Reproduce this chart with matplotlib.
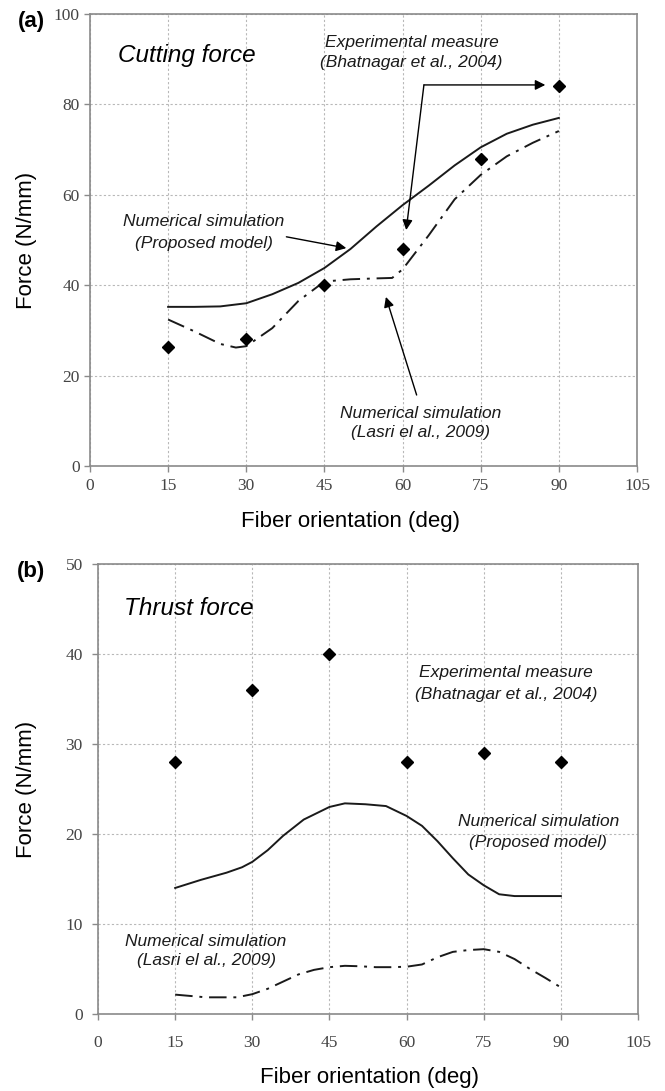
import numpy as np
import matplotlib
matplotlib.use("Agg")
import matplotlib.pyplot as plt

# ---------------- DATA ----------------
ANGLES = [15, 30, 45, 60, 75, 90]

# (a) cutting force
EXP_CUT = [26.3, 28.2, 40.0, 48.0, 68.0, 84.0]
PROP_CUT_X = [15, 20, 25, 30, 35, 40, 45, 50, 55, 60, 65, 70, 75, 80, 85, 90]
PROP_CUT_Y = [35.2, 35.2, 35.3, 36.0, 38.0, 40.5, 43.8, 48.0, 53.0, 57.7, 62.0, 66.5, 70.5, 73.5, 75.5, 77.0]
LASRI_CUT_X = [15, 20, 25, 28, 30, 35, 40, 45, 50, 55, 58, 60, 65, 70, 75, 80, 85, 90]
LASRI_CUT_Y = [32.4, 29.8, 27.0, 26.2, 26.5, 30.5, 36.5, 40.8, 41.3, 41.5, 41.6, 43.5, 51.0, 59.0, 64.4, 68.5, 71.5, 74.1]

# (b) thrust force
EXP_THR = [28.0, 36.0, 40.0, 28.0, 29.0, 28.0]
PROP_THR_X = [15, 20, 25, 28, 30, 33, 36, 40, 45, 48, 52, 56, 60, 63, 66, 69, 72, 75, 78, 81, 85, 90]
PROP_THR_Y = [14.0, 14.9, 15.7, 16.3, 16.9, 18.2, 19.8, 21.6, 23.0, 23.4, 23.3, 23.1, 22.0, 20.9, 19.2, 17.3, 15.5, 14.3, 13.3, 13.1, 13.1, 13.1]
LASRI_THR_X = [15, 18, 21, 24, 27, 30, 33, 36, 39, 42, 45, 48, 51, 54, 57, 60, 63, 66, 69, 72, 75, 78, 81, 84, 87, 90]
LASRI_THR_Y = [2.15, 2.0, 1.85, 1.85, 1.85, 2.2, 2.8, 3.6, 4.4, 4.9, 5.2, 5.35, 5.3, 5.2, 5.2, 5.25, 5.5, 6.3, 6.9, 7.1, 7.2, 6.9, 6.1, 5.0, 4.0, 2.95]

X_TICKS = np.arange(0, 106, 15)

# ---------------- STYLE ----------------
LINE_C = "#1a1a1a"
SPINE_C = "#8a8a8a"
GRID_C = "#b8b8b8"
TICK_C = "#444444"
DASHDOT = (0, (9, 3.5, 1.5, 3.5))
SANS = "Liberation Sans"
SERIF = "Liberation Serif"
NOTE_SIZE = 12.5
TITLE_SIZE = 17.5
LABEL_SIZE = 16

fig = plt.figure(figsize=(6.65, 10.91), dpi=100)
ax_a = fig.add_axes([0.1353, 0.5729, 0.8226, 0.4143])
ax_b = fig.add_axes([0.1474, 0.0706, 0.8120, 0.4125])


def style_axes(ax, ymax, ystep, xpad, ypad):
    ax.set_xlim(0, 105)
    ax.set_ylim(0, ymax)
    ax.set_xticks(X_TICKS)
    ax.set_yticks(np.arange(0, ymax + 1, ystep))
    ax.grid(True, color=GRID_C, linestyle=(0, (2, 2)), linewidth=0.8)
    ax.set_axisbelow(True)
    for s in ax.spines.values():
        s.set_color(SPINE_C)
        s.set_linewidth(1.2)
    ax.tick_params(direction="out", length=4, width=1.0, color=SPINE_C,
                   labelcolor=TICK_C, labelsize=12.5)
    ax.tick_params(axis="x", pad=xpad)
    ax.tick_params(axis="y", pad=ypad)
    for lab in ax.get_xticklabels() + ax.get_yticklabels():
        lab.set_family(SERIF)
    ax.set_xlabel("Fiber orientation (deg)", fontsize=LABEL_SIZE, family=SANS)
    ax.set_ylabel("Force (N/mm)", fontsize=LABEL_SIZE, family=SANS)


def note(ax, x, y, s, size=NOTE_SIZE):
    ax.text(x, y, s, ha="center", va="center", style="italic",
            family=SANS, fontsize=size, color="#1a1a1a")


def arrow(ax, start, tip):
    ax.annotate("", xy=tip, xytext=start,
                arrowprops=dict(arrowstyle="-|>", color="black", lw=1.0,
                                mutation_scale=15, shrinkA=0, shrinkB=0))


# ---------------- (a) Cutting force ----------------
style_axes(ax_a, 100, 20, xpad=5, ypad=3.5)
ax_a.plot(PROP_CUT_X, PROP_CUT_Y, color=LINE_C, lw=1.4)
ax_a.plot(LASRI_CUT_X, LASRI_CUT_Y, color=LINE_C, lw=1.4, linestyle=DASHDOT)
ax_a.plot(ANGLES, EXP_CUT, linestyle="none", marker="D", ms=6.5, color="black")
ax_a.xaxis.set_label_coords(0.477, -0.1)
ax_a.yaxis.set_label_coords(-0.097, 0.5)

ax_a.text(5.4, 90.9, "Cutting force", ha="left", va="center", style="italic",
          family=SANS, fontsize=TITLE_SIZE)
note(ax_a, 61.7, 93.6, "Experimental measure")
note(ax_a, 61.7, 89.2, "(Bhatnagar et al., 2004)")
arrow(ax_a, (64.1, 84.3), (87.4, 84.3))
arrow(ax_a, (64.1, 84.3), (60.7, 52.2))
note(ax_a, 21.8, 54.0, "Numerical simulation")
note(ax_a, 21.8, 49.3, "(Proposed model)")
arrow(ax_a, (37.7, 50.7), (49.2, 48.2))
note(ax_a, 63.4, 11.7, "Numerical simulation")
note(ax_a, 63.4, 7.3, "(Lasri el al., 2009)")
arrow(ax_a, (62.7, 15.7), (56.8, 37.4))

# ---------------- (b) Thrust force ----------------
style_axes(ax_b, 50, 10, xpad=11, ypad=7)
ax_b.plot(PROP_THR_X, PROP_THR_Y, color=LINE_C, lw=1.4)
ax_b.plot(LASRI_THR_X, LASRI_THR_Y, color=LINE_C, lw=1.4, linestyle=DASHDOT)
ax_b.plot(ANGLES, EXP_THR, linestyle="none", marker="D", ms=6.5, color="black")
ax_b.xaxis.set_label_coords(0.502, -0.118)
ax_b.yaxis.set_label_coords(-0.113, 0.5)

ax_b.text(5.1, 45.1, "Thrust force", ha="left", va="center", style="italic",
          family=SANS, fontsize=TITLE_SIZE)
note(ax_b, 79.3, 37.9, "Experimental measure")
note(ax_b, 79.3, 35.5, "(Bhatnagar et al., 2004)")
note(ax_b, 85.6, 21.4, "Numerical simulation")
note(ax_b, 85.6, 19.1, "(Proposed model)")
note(ax_b, 21.0, 8.1, "Numerical simulation")
note(ax_b, 21.0, 5.9, "(Lasri el al., 2009)")

# panel letters
fig.text(31 / 665, 1 - 21 / 1091, "(a)", ha="center", va="center",
         fontsize=16, fontweight="bold", family=SANS)
fig.text(31 / 665, 1 - 572 / 1091, "(b)", ha="center", va="center",
         fontsize=16, fontweight="bold", family=SANS)

fig.savefig("out.png", dpi=100)
